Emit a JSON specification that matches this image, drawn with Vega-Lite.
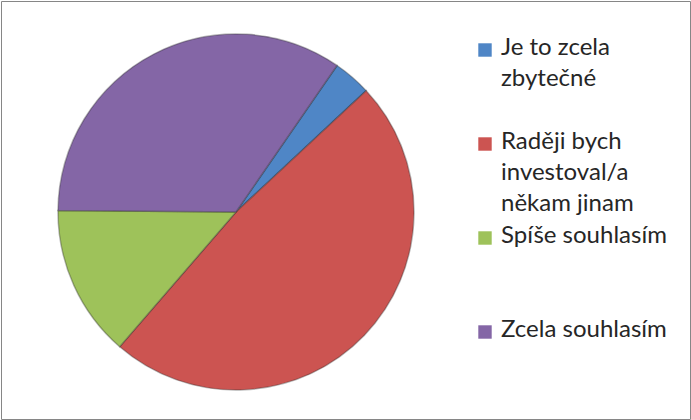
{
  "$schema": "https://vega.github.io/schema/vega-lite/v6.json",
  "width": 689,
  "height": 418,
  "padding": 1,
  "autosize": {"type": "none"},
  "background": "white",
  "view": {"stroke": "#868686", "strokeWidth": 1},
  "config": {
    "style": {"guide-label": {"lineHeight": 31, "dy": -14}}
  },
  "data": {
    "values": [
      {"i": 1, "odpoved": "Je to zcela zbytečné", "pocet": 1},
      {"i": 2, "odpoved": "Raději bych investoval/a někam jinam", "pocet": 14},
      {"i": 3, "odpoved": "Spíše souhlasím", "pocet": 4},
      {"i": 4, "odpoved": "Zcela souhlasím", "pocet": 10}
    ]
  },
  "mark": {"type": "arc", "x": 235, "y": 211, "radius": 178, "stroke": "#2a2a2a", "strokeOpacity": 0.35, "strokeWidth": 1.5},
  "encoding": {
    "theta": {"field": "pocet", "type": "quantitative", "stack": true, "scale": {"range": [0.604, 6.887]}},
    "order": {"field": "i", "type": "quantitative"},
    "color": {
      "field": "odpoved",
      "type": "nominal",
      "scale": {
        "domain": ["Je to zcela zbytečné", "Raději bych investoval/a někam jinam", "Spíše souhlasím", "Zcela souhlasím"],
        "range": ["#4F86C6", "#CC5451", "#9EC25A", "#8466A6"]
      },
      "legend": {
        "orient": "none",
        "legendX": 472,
        "legendY": 37,
        "title": null,
        "symbolType": "square",
        "symbolSize": 180,
        "symbolStrokeWidth": 0,
        "labelFont": "Lato",
        "labelFontSize": 24,
        "labelColor": "#262626",
        "labelBaseline": "top",
        "labelOffset": 4,
        "labelLimit": 300,
        "rowPadding": 8,
        "labelExpr": "datum.label == 'Je to zcela zbytečné' ? ['Je to zcela', 'zbytečné', ''] : datum.label == 'Spíše souhlasím' ? ['Spíše souhlasím', '', ''] : datum.label == 'Zcela souhlasím' ? ['Zcela souhlasím'] : ['Raději bych', 'investoval/a', 'někam jinam']"
      }
    }
  }
}
